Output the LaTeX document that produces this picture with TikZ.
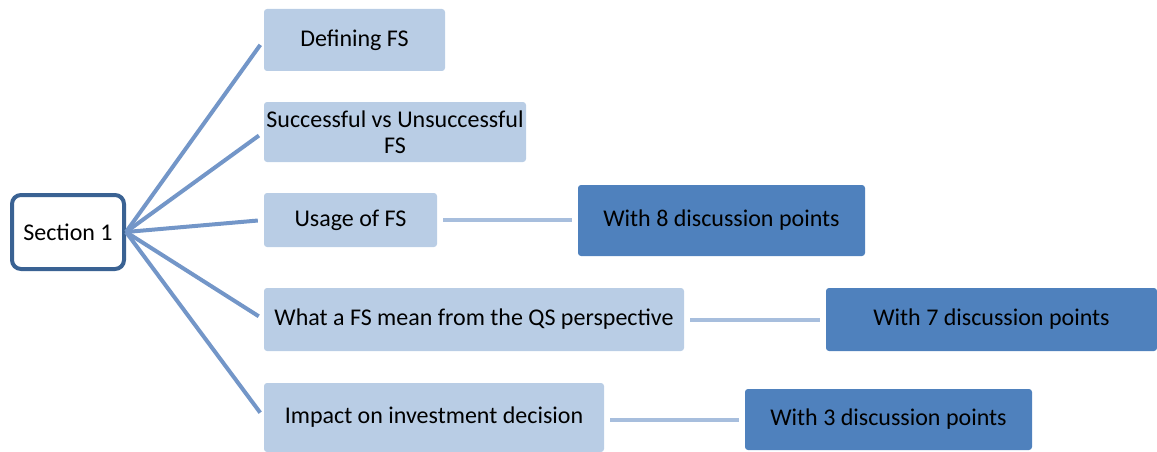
\documentclass[tikz,border=0pt]{standalone}
\usepackage{fontspec}
\setmainfont{Carlito}
\definecolor{lightbox}{HTML}{B9CDE5}
\definecolor{darkbox}{HTML}{4F81BD}
\definecolor{rootline}{HTML}{3A6293}
\definecolor{spoke}{HTML}{7396C8}
\definecolor{link}{HTML}{A7BEDD}
\begin{document}
\begin{tikzpicture}[x=1pt,y=-1pt,
  every node/.style={font=\fontsize{24}{26}\selectfont, text=black, inner sep=0pt, align=center},
  rootbox/.style={draw=rootline, line width=4pt, fill=white, rounded corners=9pt},
  topic/.style={fill=lightbox, rounded corners=3pt},
  detail/.style={fill=darkbox, rounded corners=3pt},
  spokeline/.style={draw=spoke, line width=4pt, shorten >=6pt},
  linkline/.style={draw=link, line width=4pt, shorten >=6pt, shorten <=6pt}]
\useasboundingbox (0,0) rectangle (1157,452);
\clip (0,0) rectangle (1157,452);
\node[rootbox, minimum width=112pt, minimum height=74pt] (root) at (68,232) {Section 1};
\node[topic, minimum width=181pt, minimum height=62pt] (def) at (354.5,40) {Defining FS};
\node[topic, minimum width=262pt, minimum height=60pt] (succ) at (395,132) {Successful vs Unsuccessful\\FS};
\node[topic, minimum width=173pt, minimum height=54pt] (use) at (350.5,220) {Usage of FS};
\node[topic, minimum width=420pt, minimum height=63pt] (qs) at (474,319.5) {What a FS mean from the QS perspective};
\node[topic, minimum width=340pt, minimum height=69pt] (imp) at (434,417.5) {Impact on investment decision};
\node[detail, minimum width=287pt, minimum height=71pt] (d8) at (721.5,220.5) {With 8 discussion points};
\node[detail, minimum width=331pt, minimum height=63pt] (d7) at (991.5,319.5) {With 7 discussion points};
\node[detail, minimum width=287pt, minimum height=61pt] (d3) at (888.5,419.5) {With 3 discussion points};
\foreach \t in {def,succ,use,qs,imp}
  \draw[spokeline] (root.east) -- (\t.west);
\draw[linkline] (use.east) -- (d8.west |- use.east);
\draw[linkline] (qs.east) -- (d7.west |- qs.east);
\draw[linkline] (imp.east |- d3.west) -- (d3.west);
\end{tikzpicture}
\end{document}
